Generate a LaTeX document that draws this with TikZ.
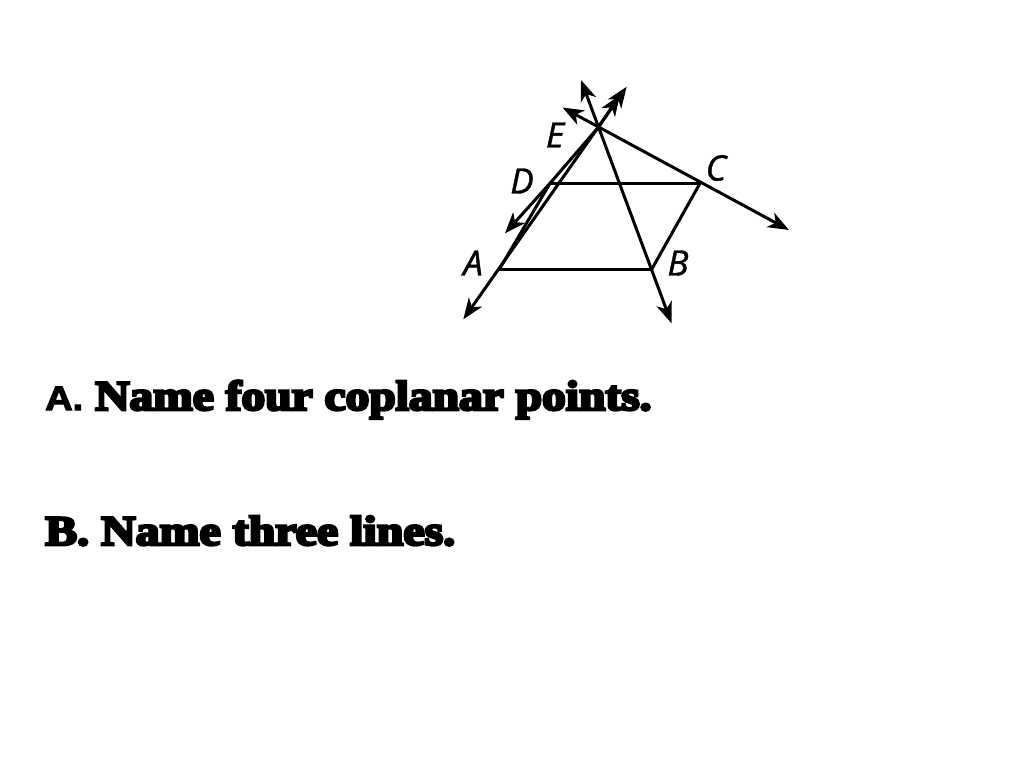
\documentclass[tikz,border=0pt]{standalone}
\usepackage{fontspec}
\usetikzlibrary{arrows.meta}
\newfontfamily\heavy[FakeBold=6]{Liberation Serif}
\newfontfamily\plainsans[BoldFont={Liberation Sans Bold}, BoldFeatures={FakeBold=3}, FakeBold=3]{Liberation Sans}
\newfontfamily\lblfont[FakeBold=1.2]{Open Sans}
\tikzset{
  ln/.style={line width=3pt, line cap=round},
  tips/.style={{Stealth[length=21pt,width=16pt,inset=6pt]}-{Stealth[length=21pt,width=16pt,inset=6pt]}},
  pt/.style={inner sep=0pt, font=\lblfont\itshape\fontsize{35}{35}\selectfont},
  qtext/.style={anchor=base west, inner sep=0pt}
}
\begin{document}
\begin{tikzpicture}[x=1pt,y=-1pt]
\useasboundingbox (0,0) rectangle (1024,768);
% points
\coordinate (E) at (598.3,127.3);
\coordinate (D) at (550,183.3);
\coordinate (C) at (700,183.3);
\coordinate (A) at (499.3,269.3);
\coordinate (B) at (651.7,269.3);
% free ends of lines
\coordinate (aeLow) at (463.3,319.3);
\coordinate (aeUp) at (626.7,86.7);
\coordinate (deLow) at (505,233.3);
\coordinate (deUp) at (620,95);
\coordinate (ebUp) at (581,80);
\coordinate (ebLow) at (671.5,323.3);
\coordinate (ecUp) at (562.5,107.5);
\coordinate (ecLow) at (789,230);
% segments
\draw[ln] (D) -- (C);
\draw[ln] (C) -- (B);
\draw[ln] (A) -- (B);
\draw[ln] (A) -- (D);
% lines
\draw[ln,tips] (aeLow) -- (aeUp);
\draw[ln,tips] (deLow) -- (D) -- (E) -- (deUp);
\draw[ln,tips] (ebUp) -- (ebLow);
\draw[ln,tips] (ecUp) -- (ecLow);
% labels
\node[pt] (lE) at (555,135) {E};
\node[pt] (lD) at (522,181) {D};
\node[pt] (lC) at (716,168) {C};
\node[pt] (lA) at (473,263) {A};
\node[pt] (lB) at (678,263) {B};
% questions
\node[qtext] (qa) at (45,410) {\scalebox{1.12}[1]{\plainsans\bfseries\fontsize{34}{34}\selectfont A.}};
\node[qtext] (qatext) at (95,410) {\scalebox{1.13}[1]{\heavy\bfseries\fontsize{42}{42}\selectfont Name four coplanar points.}};
\node[qtext] (qb) at (45,545) {\scalebox{1.14}[1]{\heavy\bfseries\fontsize{42}{42}\selectfont B. Name three lines.}};
\end{tikzpicture}
\end{document}
